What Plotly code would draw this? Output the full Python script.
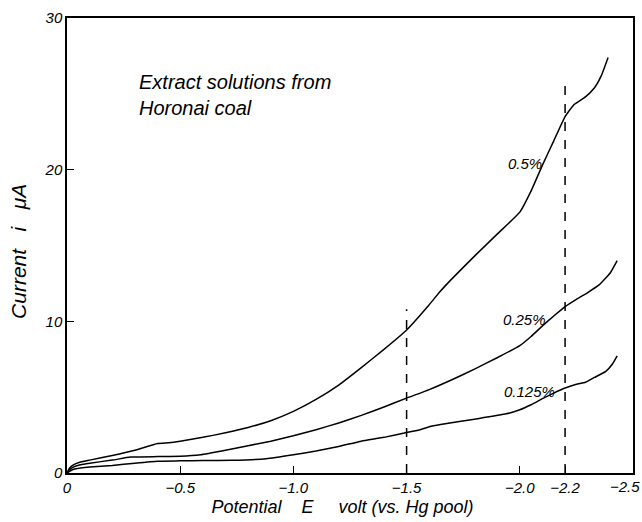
import plotly.graph_objects as go

# Data (potential E in volts vs Hg pool, current i in microamperes)
e_05 = [0, -0.01, -0.03, -0.06, -0.1, -0.2, -0.3, -0.4, -0.45, -0.5, -0.6, -0.7, -0.8, -0.9, -1.0, -1.1, -1.2, -1.3, -1.4, -1.5, -1.6, -1.65, -1.7, -1.8, -1.9, -2.0, -2.05, -2.1, -2.15, -2.2, -2.24, -2.29, -2.33, -2.36, -2.39]
i_05 = [0, 0.3, 0.55, 0.72, 0.85, 1.15, 1.5, 1.95, 2.0, 2.1, 2.35, 2.65, 3.0, 3.45, 4.06, 4.85, 5.8, 6.95, 8.15, 9.43, 11.1, 12.0, 12.8, 14.3, 15.75, 17.2, 18.6, 20.3, 21.9, 23.5, 24.3, 24.8, 25.4, 26.2, 27.4]

e_025 = [0, -0.01, -0.03, -0.06, -0.1, -0.2, -0.28, -0.4, -0.5, -0.59, -0.7, -0.8, -0.9, -1.0, -1.1, -1.2, -1.3, -1.4, -1.5, -1.6, -1.7, -1.8, -1.9, -2.0, -2.05, -2.1, -2.15, -2.2, -2.25, -2.3, -2.35, -2.4, -2.43]
i_025 = [0, 0.2, 0.4, 0.55, 0.65, 0.85, 1.05, 1.08, 1.1, 1.2, 1.5, 1.8, 2.1, 2.45, 2.85, 3.3, 3.8, 4.35, 4.94, 5.5, 6.15, 6.85, 7.6, 8.4, 9.0, 9.7, 10.35, 10.97, 11.45, 11.9, 12.4, 13.2, 14.0]

e_0125 = [0, -0.01, -0.03, -0.06, -0.1, -0.2, -0.3, -0.4, -0.5, -0.6, -0.73, -0.88, -1.0, -1.1, -1.2, -1.3, -1.4, -1.5, -1.56, -1.6, -1.65, -1.8, -1.94, -2.0, -2.05, -2.1, -2.15, -2.2, -2.25, -2.29, -2.33, -2.38, -2.41, -2.43]
i_0125 = [0, 0.1, 0.25, 0.33, 0.4, 0.5, 0.65, 0.78, 0.8, 0.82, 0.84, 0.94, 1.2, 1.45, 1.75, 2.1, 2.35, 2.67, 2.85, 3.05, 3.2, 3.55, 3.9, 4.17, 4.5, 4.9, 5.27, 5.6, 5.85, 5.98, 6.3, 6.7, 7.2, 7.72]

series_labels = ["0.5%", "0.25%", "0.125%"]
label_pos_x = [-2.022, -2.022, -2.044]
label_pos_y = [20.4, 10.1, 5.37]

dash_x = [-1.5, -2.2]
dash_top = [10.8, 25.9]

x_tickvals = [0, -0.5, -1.0, -1.5, -2.0, -2.2, -2.5]
x_ticktext = ["0", "\u22120.5", "\u22121.0", "\u22121.5", "\u22122.0", "\u22122.2", ""]
x_end_label = "\u22122.5"
y_tickvals = [0, 10, 20, 30]
y_ticktext = ["0", "10", "20", "30"]

fig = go.Figure()
for ex, iy in [(e_05, i_05), (e_025, i_025), (e_0125, i_0125)]:
    fig.add_trace(go.Scatter(x=ex, y=iy, mode="lines",
                             line=dict(color="black", width=1.5, shape="spline", smoothing=0.4),
                             showlegend=False, hoverinfo="skip"))

for xv, top in zip(dash_x, dash_top):
    fig.add_trace(go.Scatter(x=[xv, xv], y=[0, top], mode="lines",
                             line=dict(color="black", width=1.5, dash="dash"),
                             showlegend=False, hoverinfo="skip"))

for lab, lx, ly in zip(series_labels, label_pos_x, label_pos_y):
    fig.add_annotation(x=lx, y=ly, text=lab, showarrow=False,
                       font=dict(size=15, style="italic"))

# end-of-axis tick label, kept inside the page
fig.add_annotation(x=x_tickvals[-1], y=0, yref="y", text=x_end_label, showarrow=False,
                   xanchor="right", yanchor="top", xshift=9, yshift=-3,
                   font=dict(size=15, style="italic"))

fig.add_annotation(xref="paper", yref="paper", x=0.124, y=0.83, xanchor="left", yanchor="middle",
                   text="Extract solutions from<br>Horonai coal", align="left", showarrow=False,
                   font=dict(size=20, style="italic"))

fig.update_layout(
    width=642, height=522,
    margin=dict(l=67, r=9, t=18, b=49),
    paper_bgcolor="white", plot_bgcolor="white",
    font=dict(family="Liberation Sans, Arial, sans-serif", color="black", size=15, style="italic"),
    xaxis=dict(range=[0, -2.5], tickvals=x_tickvals, ticktext=x_ticktext, automargin=False,
               ticks="inside", ticklen=7, tickcolor="black", showgrid=False, zeroline=False,
               showline=True, linecolor="black", linewidth=1.5, mirror=True,
               title=dict(text="Potential    E     volt (vs. Hg pool)&nbsp;&nbsp;&nbsp;",
                          font=dict(size=18, style="italic"), standoff=6)),
    yaxis=dict(range=[0, 30], tickvals=y_tickvals, ticktext=y_ticktext, automargin=False,
               ticks="inside", ticklen=7, tickcolor="black", showgrid=False, zeroline=False,
               showline=True, linecolor="black", linewidth=1.5, mirror=True,
               title=dict(text="Current   i   \u03bcA&nbsp;&nbsp;",
                          font=dict(size=21, style="italic"), standoff=12)),
)

fig.write_html("out.html", config={"displayModeBar": False},
               post_script="document.body.style.margin='0';document.body.style.overflow='hidden';")
